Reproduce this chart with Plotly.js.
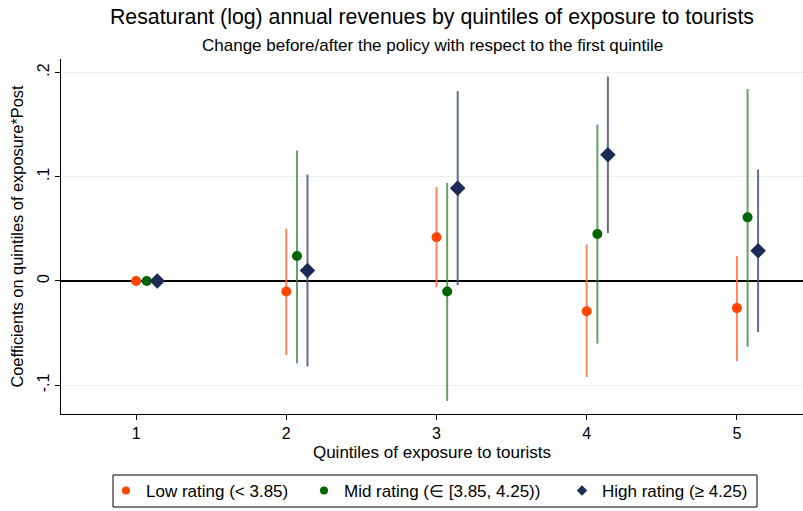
<!DOCTYPE html>
<html><head><meta charset="utf-8">
<script src="https://cdn.plot.ly/plotly-3.0.1.min.js"></script>
<style>body{margin:0;background:#fff}#chart{width:803px;height:511px}</style>
</head><body><div id="chart"></div>
<script>
const quintiles = [1, 2, 3, 4, 5];
const seriesNames = ["Low rating (< 3.85)", "Mid rating (\u2208 [3.85, 4.25))", "High rating (\u2265 4.25)"];
const offsets = [0, 0.071, 0.141];
const lowCoef = [0, -0.010, 0.042, -0.029, -0.026];
const lowLo   = [0, -0.071, -0.006, -0.092, -0.077];
const lowHi   = [0, 0.050, 0.090, 0.035, 0.024];
const midCoef = [0, 0.024, -0.010, 0.045, 0.061];
const midLo   = [0, -0.079, -0.115, -0.060, -0.063];
const midHi   = [0, 0.125, 0.094, 0.150, 0.184];
const highCoef = [0, 0.010, 0.089, 0.121, 0.029];
const highLo   = [0, -0.082, -0.004, 0.046, -0.049];
const highHi   = [0, 0.102, 0.182, 0.196, 0.107];
const yTickVals = [-0.1, 0, 0.1, 0.2];
const yTickText = ["-.1", "0", ".1", ".2"];

const styles = [
  {mc: "#ff4500", lc: "rgba(255,110,60,0.85)", sym: "circle", size: 10},
  {mc: "#006400", lc: "rgba(50,130,50,0.75)", sym: "circle", size: 10},
  {mc: "#1c2b55", lc: "rgba(70,85,125,0.85)", sym: "diamond", size: 12}
];
const data = [[lowCoef, lowLo, lowHi], [midCoef, midLo, midHi], [highCoef, highLo, highHi]];
const legendIds = ["legend", "legend2", "legend3"];
const traces = [];
data.forEach((d, i) => {
  const [c, lo, hi] = d;
  traces.push({
    type: "scatter", mode: "markers", showlegend: false,
    x: quintiles.map(q => q + offsets[i]), y: c,
    marker: {color: styles[i].mc, symbol: styles[i].sym, size: styles[i].size},
    error_y: {type: "data", symmetric: false,
      array: hi.map((h, k) => h - c[k]), arrayminus: lo.map((l, k) => c[k] - l),
      width: 0, thickness: 2, color: styles[i].lc},
    cliponaxis: false
  });
});
data.forEach((d, i) => {
  traces.push({
    type: "scatter", mode: "markers", name: seriesNames[i], legend: legendIds[i],
    x: [null], y: [null],
    marker: {color: styles[i].mc, symbol: styles[i].sym, size: 8}
  });
});

const font = "Liberation Sans, Arial, sans-serif";
const W = 803, H = 511;
const legendLeft = [106, 304, 562];
const legendCenterY = 491;
const mkLegend = px => ({orientation: "h", xref: "container", yref: "container",
  x: px / W, xanchor: "left", y: 1 - legendCenterY / H, yanchor: "middle",
  borderwidth: 0, bgcolor: "rgba(0,0,0,0)", font: {size: 17}, itemwidth: 30});
const layout = {
  width: W, height: H,
  margin: {l: 61, r: 0, t: 59, b: 97},
  paper_bgcolor: "#fff", plot_bgcolor: "#fff",
  font: {family: font, size: 14, color: "#000"},
  title: {text: "Resaturant (log) annual revenues by quintiles of exposure to tourists",
    font: {size: 21.3, color: "#000"}, x: 0.5, xref: "paper", y: 1 - 17 / H, yref: "container", yanchor: "middle"},
  annotations: [{text: "Change before/after the policy with respect to the first quintile",
    xref: "paper", yref: "paper", x: 0.5, y: (414 - 45) / 355, yanchor: "middle", showarrow: false,
    font: {size: 17, color: "#000"}}],
  shapes: [{type: "rect", xref: "paper", yref: "paper",
    x0: (113 - 61) / 742, x1: (757 - 61) / 742, y0: (414 - 475) / 355, y1: (414 - 507) / 355,
    line: {color: "#000", width: 1}, fillcolor: "rgba(0,0,0,0)"}],
  xaxis: {range: [0.5, 5.44], tickvals: quintiles, ticks: "outside", ticklen: 5, tickcolor: "#000",
    showline: true, linecolor: "#000", linewidth: 1, showgrid: false, zeroline: false,
    tickfont: {size: 16}, title: {text: "Quintiles of exposure to tourists", font: {size: 17}, standoff: 4}},
  yaxis: {range: [-0.1275, 0.2128], tickvals: yTickVals, ticktext: yTickText, tickangle: -90,
    ticks: "outside", ticklen: 5, tickcolor: "#000", showline: true, linecolor: "#000", linewidth: 1,
    showgrid: true, gridcolor: "#eaf0f2", gridwidth: 1,
    zeroline: true, zerolinecolor: "#000", zerolinewidth: 2,
    tickfont: {size: 16}, title: {text: "Coefficients on quintiles of exposure*Post", font: {size: 16.4}, standoff: 6}},
  showlegend: true,
  legend: mkLegend(legendLeft[0]),
  legend2: mkLegend(legendLeft[1]),
  legend3: mkLegend(legendLeft[2])
};
Plotly.newPlot("chart", traces, layout, {displayModeBar: false, staticPlot: true});
</script></body></html>
